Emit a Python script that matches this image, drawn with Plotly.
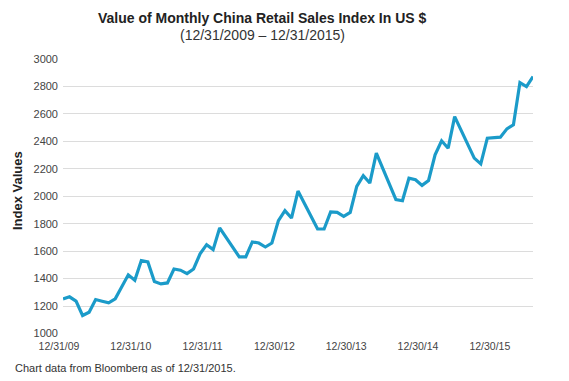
import plotly.graph_objects as go

# Month index (0 = 12/31/2009, monthly steps) of each vertex of the line
month_index = [0, 1, 2, 3, 4, 5, 6, 7, 8, 10, 11, 12, 13, 14, 15, 16, 17, 18, 19, 20,
               21, 22, 23, 24, 27, 28, 29, 30, 31, 32, 33, 34, 35, 36, 39, 40, 41, 42,
               43, 44, 45, 46, 47, 48, 51, 52, 53, 54, 55, 56, 57, 58, 59, 60, 63, 64,
               65, 66, 67, 68, 69, 70, 71, 72]
index_values = [1252, 1267, 1235, 1131, 1155, 1247, 1235, 1223, 1252, 1427, 1388, 1531,
                1521, 1378, 1361, 1368, 1470, 1461, 1436, 1470, 1580, 1647, 1611, 1769,
                1558, 1558, 1667, 1659, 1630, 1659, 1822, 1895, 1841, 2038, 1761, 1761,
                1885, 1882, 1853, 1882, 2071, 2149, 2096, 2314, 1975, 1967, 2132, 2120,
                2079, 2115, 2302, 2404, 2350, 2580, 2278, 2236, 2423, 2428, 2430, 2491,
                2520, 2828, 2799, 2872]

tick_positions = [0, 11, 22, 33, 44, 55, 66]
tick_labels = ["12/31/09", "12/31/10", "12/31/11", "12/30/12", "12/30/13", "12/30/14", "12/30/15"]
y_ticks = [1000, 1200, 1400, 1600, 1800, 2000, 2200, 2400, 2600, 2800, 3000]

FONT = "Liberation Sans, Arial, Helvetica, sans-serif"

fig = go.Figure()
fig.add_trace(go.Scatter(
    x=month_index, y=index_values, mode="lines",
    line=dict(color="#1b9bc9", width=3.2),
    hoverinfo="skip", showlegend=False,
))

# page body has an 8px default margin, so the figure is sized/offset for it
fig.update_layout(
    width=553, height=365,
    margin=dict(l=55, r=28, t=51, b=39),
    paper_bgcolor="white", plot_bgcolor="white",
    font=dict(family=FONT, size=11, color="#444"),
    xaxis=dict(
        range=[0, 72], tickmode="array", tickvals=tick_positions, ticktext=tick_labels,
        showgrid=False, zeroline=False, showline=False, ticks="",
        ticklabelstandoff=4, ticklabelshift=-4,
        tickfont=dict(size=10.5, color="#444"),
    ),
    yaxis=dict(
        range=[996, 3000], tickmode="array", tickvals=y_ticks,
        showgrid=True, gridcolor="#dcdcdc", gridwidth=1, zeroline=False, showline=False,
        ticks="", ticklabelstandoff=4, tickfont=dict(size=11, color="#444"),
    ),
    annotations=[
        dict(text="<b>Value of Monthly China Retail Sales Index In US $</b>",
             xref="paper", yref="paper", x=(262 - 63) / 470, y=1, yshift=51,
             showarrow=False, xanchor="center", yanchor="top",
             font=dict(family=FONT, size=14, color="#222")),
        dict(text="(12/31/2009 – 12/31/2015)",
             xref="paper", yref="paper", x=(262 - 63) / 470, y=1, yshift=24,
             showarrow=False, xanchor="center", yanchor="middle",
             font=dict(family=FONT, size=14, color="#333")),
        dict(text="<b>Index Values</b>", textangle=-90,
             xref="paper", yref="paper", x=0, xshift=-46, y=0.52,
             showarrow=False, xanchor="center", yanchor="middle",
             font=dict(family=FONT, size=13, color="#222")),
        dict(text="Chart data from Bloomberg as of 12/31/2015.",
             xref="paper", yref="paper", x=0, xshift=-50, y=0, yshift=-34,
             showarrow=False, xanchor="left", yanchor="middle",
             font=dict(family=FONT, size=11, color="#333")),
    ],
)

fig.write_html("out.html")
